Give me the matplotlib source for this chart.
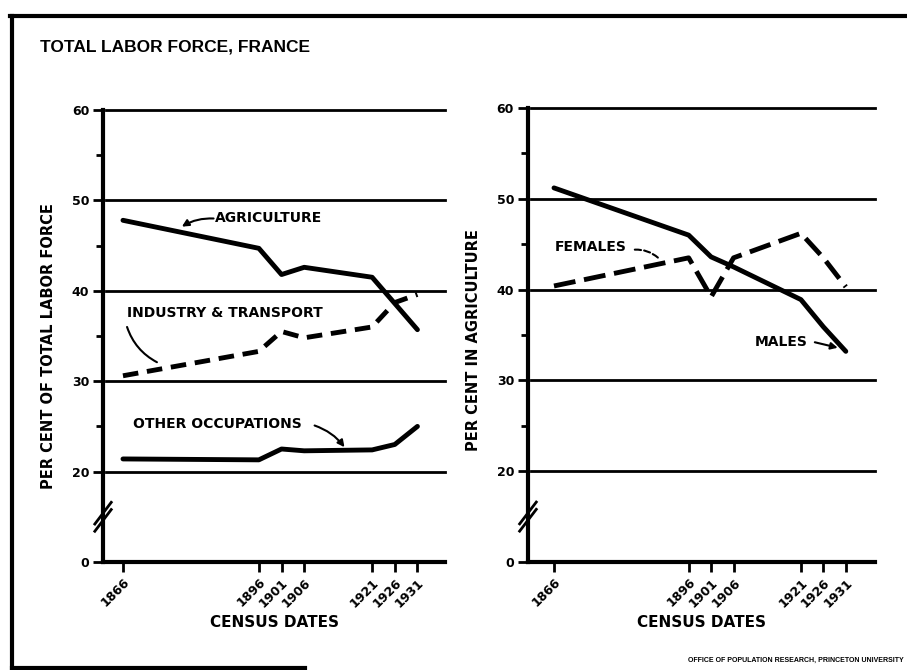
import matplotlib.pyplot as plt
import numpy as np
from matplotlib.lines import Line2D

years = [1866, 1896, 1901, 1906, 1921, 1926, 1931]
year_labels = [str(y) for y in years]

# per cent of total labor force by sector
agriculture = [47.8, 44.7, 41.8, 42.6, 41.5, 38.6, 35.7]
industry_transport = [30.6, 33.3, 35.5, 34.8, 36.0, 38.7, 39.6]
other_occupations = [21.4, 21.3, 22.5, 22.3, 22.4, 23.0, 25.0]

# per cent of each sex in agriculture
males = [51.2, 46.0, 43.6, 42.5, 38.9, 35.9, 33.2]
females = [40.4, 43.5, 39.2, 43.5, 46.2, 43.5, 40.3]

y_ticks = [0, 20, 30, 40, 50, 60]
y_minor = [25, 35, 45, 55]

W, H = 907, 670
BOLD = dict(family='DejaVu Sans', fontweight='bold', color='black')


def fpos(x, y):
    # pixel position -> figure fraction
    return x / W, 1 - y / H


def broken(y):
    # squeeze 0-20 into half the room of a 10-point step
    y = np.asarray(y, dtype=float)
    return np.where(y >= 20, y, 10 + y / 2)


def unbroken(v):
    v = np.asarray(v, dtype=float)
    return np.where(v >= 20, v, (v - 10) * 2)


def style_panel(ax, xlim):
    ax.set_yscale('function', functions=(broken, unbroken))
    ax.set_ylim(0, 60)
    ax.set_xlim(*xlim)
    for s in ('top', 'right'):
        ax.spines[s].set_visible(False)
    for s in ('left', 'bottom'):
        ax.spines[s].set_linewidth(3)
        ax.spines[s].set_capstyle('projecting')
    for v in y_ticks[1:]:
        ax.axhline(v, xmin=0.01, color='black', lw=2, zorder=1, clip_on=False)
    ax.set_yticks(y_ticks)
    ax.set_yticklabels([str(v) for v in y_ticks], fontsize=9, **BOLD)
    ax.set_yticks(y_minor, minor=True)
    ax.set_xticks(years)
    ax.set_xticklabels(year_labels, rotation=45, ha='right', va='top',
                       rotation_mode='anchor', fontsize=9, **BOLD)
    ax.tick_params(axis='both', which='major', length=7, width=2, pad=3)
    ax.tick_params(axis='y', which='minor', length=5, width=2)
    ax.set_facecolor('none')
    # break marks on the value axis between 0 and 20
    for dy in (-0.008, 0.008):
        ax.plot([-0.024, 0.024], [0.1 + dy - 0.024, 0.1 + dy + 0.024],
                transform=ax.transAxes, color='black', lw=2, clip_on=False)
    ax.text(0.5, -0.133, 'CENSUS DATES', transform=ax.transAxes,
            ha='center', va='center', fontsize=11, **BOLD)


fig = plt.figure(figsize=(W / 100, H / 100), dpi=100)
ax1 = fig.add_axes([0.1136, 0.1612, 0.3771, 0.6746])
ax2 = fig.add_axes([0.5821, 0.1612, 0.3826, 0.6776])
style_panel(ax1, (1861.6, 1937.1))
style_panel(ax2, (1860.2, 1937.5))

# left panel: sectors
ax1.plot(years, agriculture, color='black', lw=3.5, solid_joinstyle='round',
         solid_capstyle='round', zorder=3)
ax1.plot(years, industry_transport, color='black', lw=3.5,
         linestyle=(0, (3.2, 1.8)), dash_capstyle='butt', zorder=3)
ax1.plot(years, other_occupations, color='black', lw=3.5,
         solid_joinstyle='round', solid_capstyle='round', zorder=3)

ax1.text(1886.3, 48.05, 'AGRICULTURE', ha='left', va='center', fontsize=10, **BOLD)
ax1.annotate('', xy=(1879.0, 47.1), xytext=(1886.0, 48.0),
             arrowprops=dict(arrowstyle='-|>', color='black', lw=1.5,
                             mutation_scale=10, shrinkA=0, shrinkB=0,
                             connectionstyle='arc3,rad=0.15'))
ax1.text(1866.9, 37.55, 'INDUSTRY & TRANSPORT', ha='left', va='center',
         fontsize=10, **BOLD)
ax1.annotate('', xy=(1873.5, 32.1), xytext=(1866.9, 36.0),
             arrowprops=dict(arrowstyle='-', color='black', lw=1.5,
                             shrinkA=0, shrinkB=0,
                             connectionstyle='arc3,rad=0.2'))
ax1.text(1868.2, 25.3, 'OTHER OCCUPATIONS', ha='left', va='center',
         fontsize=10, **BOLD)
ax1.annotate('', xy=(1914.9, 22.7), xytext=(1908.3, 25.1),
             arrowprops=dict(arrowstyle='-|>', color='black', lw=1.5,
                             mutation_scale=10, shrinkA=0, shrinkB=0,
                             connectionstyle='arc3,rad=-0.15'))

# right panel: by sex
ax2.plot(years, males, color='black', lw=3.5, solid_joinstyle='round',
         solid_capstyle='round', zorder=3)
ax2.plot(years, females, color='black', lw=3.5,
         linestyle=(0, (4.5, 1.8)), dash_capstyle='butt', zorder=3)

ax2.text(1866.2, 44.7, 'FEMALES', ha='left', va='center', fontsize=10, **BOLD)
ax2.annotate('', xy=(1889.2, 43.5), xytext=(1884.0, 44.4),
             arrowprops=dict(arrowstyle='-', color='black', lw=1.5,
                             linestyle=(0, (3, 1.5)), shrinkA=0, shrinkB=0,
                             connectionstyle='arc3,rad=-0.2'))
ax2.text(1910.8, 34.2, 'MALES', ha='left', va='center', fontsize=10, **BOLD)
ax2.annotate('', xy=(1929.2, 33.6), xytext=(1924.1, 34.2),
             arrowprops=dict(arrowstyle='-|>', color='black', lw=1.5,
                             mutation_scale=10, shrinkA=0, shrinkB=0))

# axis titles
fig.text(*fpos(49, 346), 'PER CENT OF TOTAL LABOR FORCE', rotation=90,
         ha='center', va='center', fontsize=10.5, **BOLD)
fig.text(*fpos(474, 340), 'PER CENT IN AGRICULTURE', rotation=90,
         ha='center', va='center', fontsize=10.5, **BOLD)

fig.text(*fpos(40, 47), 'TOTAL LABOR FORCE, FRANCE', ha='left', va='center',
         fontsize=12.5, fontweight='bold', family='Liberation Sans')
fig.text(*fpos(904, 660), 'OFFICE OF POPULATION RESEARCH, PRINCETON UNIVERSITY',
         ha='right', va='center', fontsize=5, fontweight='bold',
         family='Liberation Sans')

# page frame
frame = dict(transform=fig.transFigure, color='black', lw=3)
fig.add_artist(Line2D([10 / W, 1], [1 - 16 / H] * 2, **frame))
fig.add_artist(Line2D([12 / W] * 2, [1 - 16 / H, 0], **frame))
fig.add_artist(Line2D([12 / W, 305 / W], [1 - 668 / H] * 2, **frame))

fig.savefig('out.png', dpi=100, facecolor='white')
